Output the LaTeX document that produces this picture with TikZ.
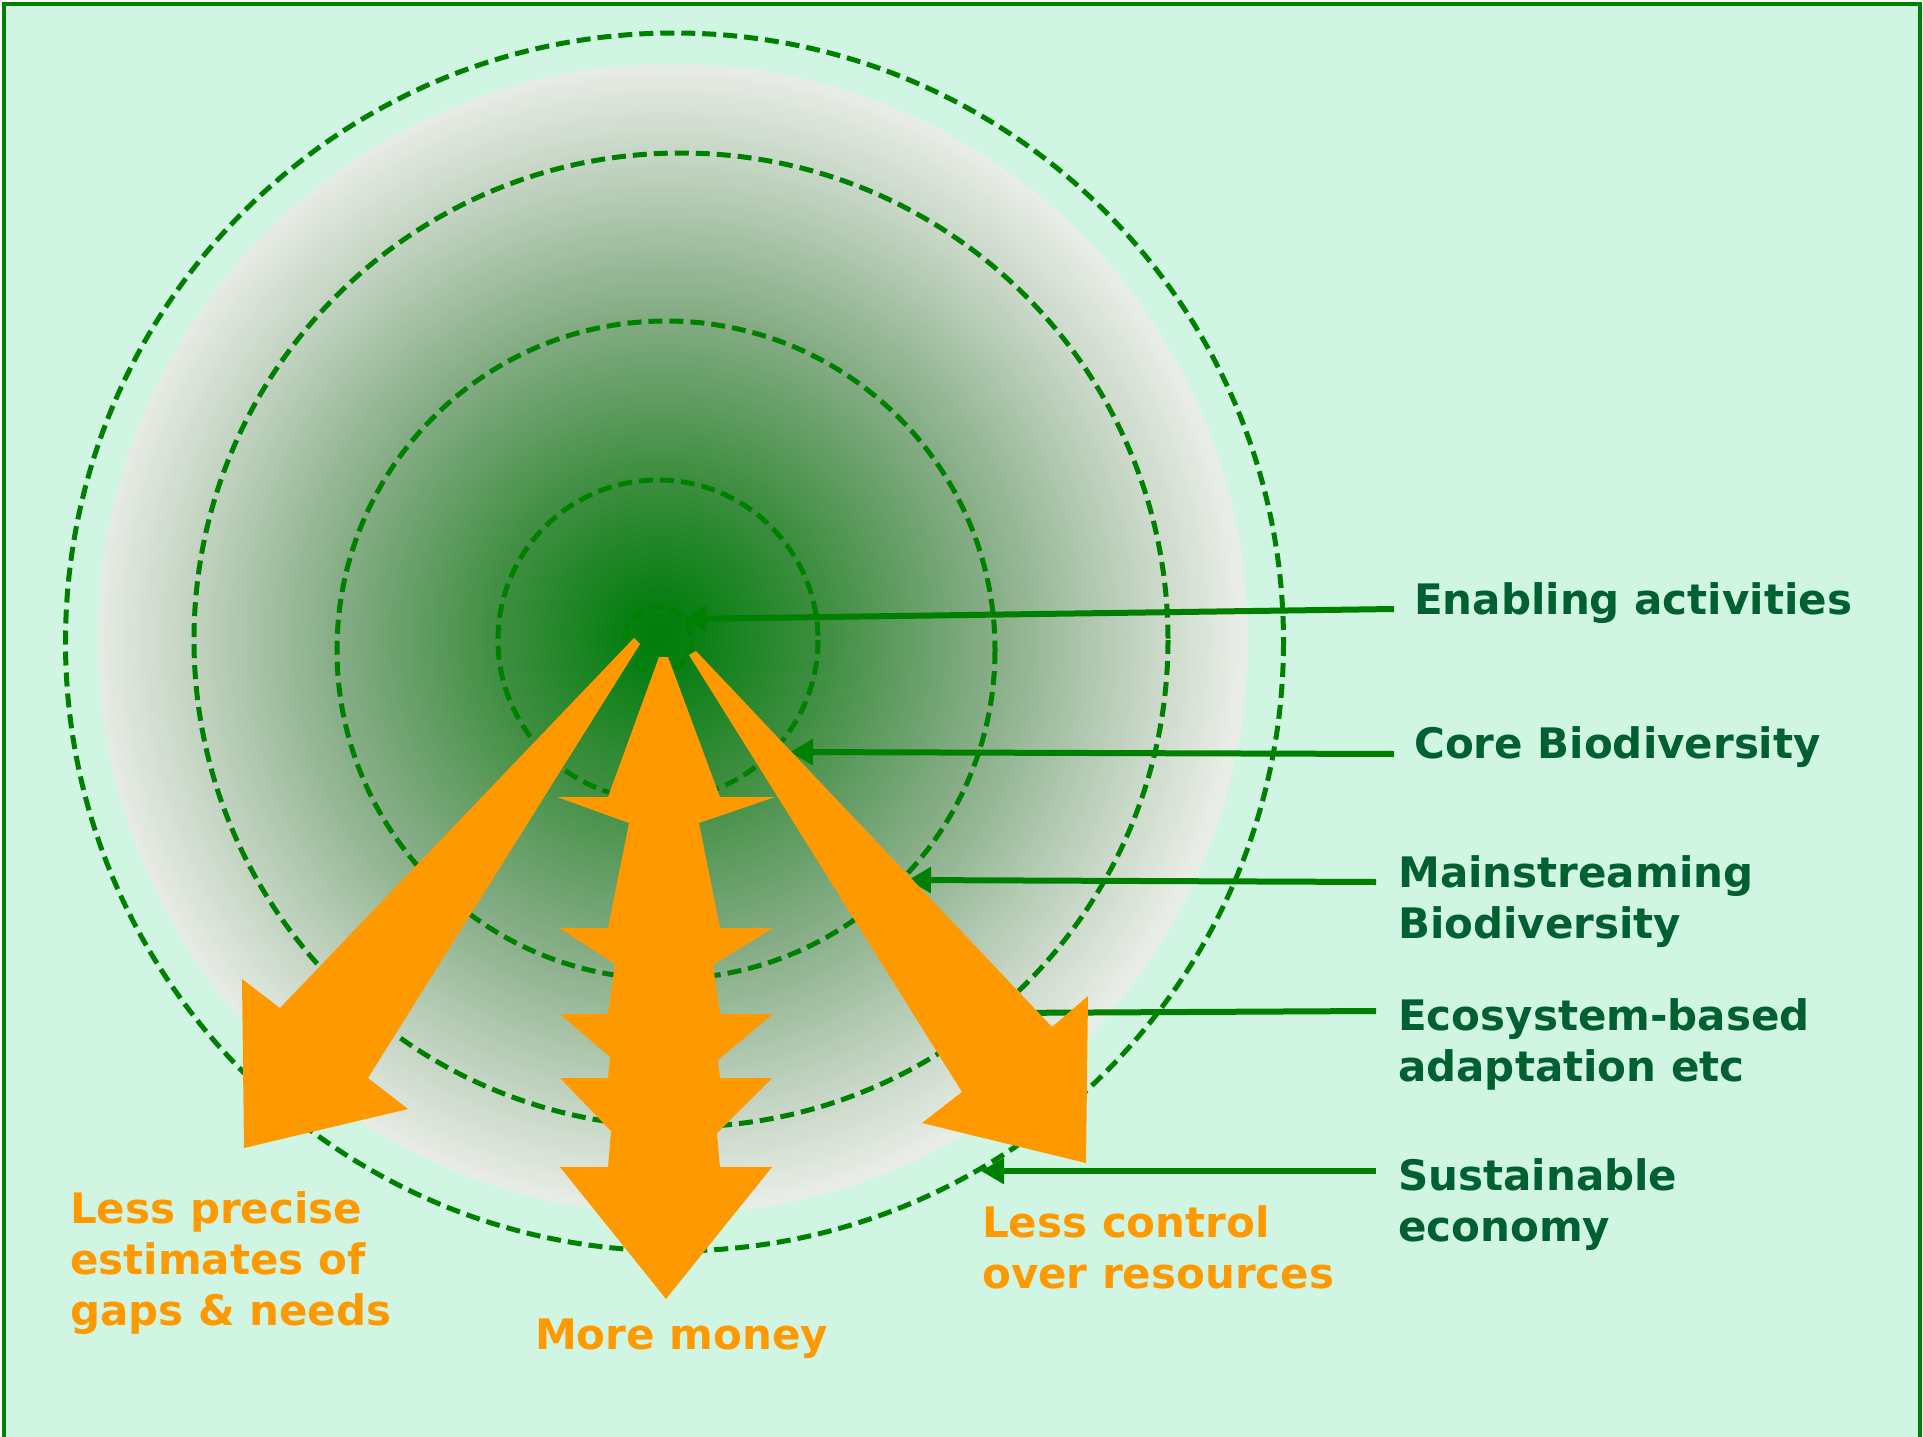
\documentclass[tikz,border=0pt]{standalone}
\usepackage{fontspec}
\setmainfont{DejaVu Sans}
\usetikzlibrary{arrows.meta}
\definecolor{bgmint}{RGB}{208,245,227}
\definecolor{frgreen}{RGB}{0,128,0}
\definecolor{txgreen}{RGB}{0,96,50}
\definecolor{orng}{RGB}{255,153,0}
\definecolor{gcen}{RGB}{0,125,10}
\definecolor{gc1}{RGB}{12,128,22}
\definecolor{gc2}{RGB}{62,142,64}
\definecolor{gc3}{RGB}{132,172,132}
\definecolor{gc4}{RGB}{198,214,197}
\definecolor{gedge}{RGB}{233,237,231}
\pgfdeclareradialshading{diskshade}{\pgfpoint{-0.65bp}{0.2bp}}{color(0bp)=(gcen); color(2bp)=(gc1); color(7bp)=(gc2); color(14bp)=(gc3); color(21bp)=(gc4); color(25bp)=(gedge); color(50bp)=(gedge)}
\begin{document}
\begin{tikzpicture}[x=1pt,y=-1pt,
  lbl/.style={font=\bfseries\fontsize{42}{51}\selectfont, inner sep=0pt, anchor=base west},
  glbl/.style={lbl, text=txgreen},
  olbl/.style={lbl, text=orng},
  conn/.style={draw=frgreen, line width=6pt, -{Triangle[length=23pt,width=25pt]}},
  ring/.style={draw=frgreen, line width=5pt, dash pattern=on 14pt off 7pt},
  bigarrow/.style={fill=orng, draw=none}]
\useasboundingbox (0,0) rectangle (1923,1437);
\fill[white] (0,0) rectangle (1923,1437);
\draw[fill=bgmint, draw=frgreen, line width=4pt] (4,4) rectangle (1920,1470);

% shaded disk
\shade[shading=diskshade] (673,639) circle[radius=575];

% dashed rings
\draw[ring] (674.5,642) circle[radius=609];
\draw[ring] (681,640) circle[radius=487];
\draw[ring] (666,650) circle[radius=329];
\draw[ring] (658,640) circle[radius=160];
\draw[ring] (658,640) circle[radius=33];

% connector ends
\coordinate (sE) at (1394,609);  \coordinate (tE) at (683,619);
\coordinate (sC) at (1394,754);  \coordinate (tC) at (790,752);
\coordinate (sM) at (1376,882);  \coordinate (tM) at (908,880);
\coordinate (sEc) at (1376,1011); \coordinate (tEc) at (997,1013);
\coordinate (sS) at (1376,1171); \coordinate (tS) at (981,1171);

\draw[conn] (sE) -- (tE);
\draw[conn] (sC) -- (tC);
\draw[conn] (sM) -- (tM);
\draw[conn] (sEc) -- (tEc);
\draw[conn] (sS) -- (tS);

% orange arrows
\fill[bigarrow] (634,638) -- (280,1008) -- (242,979) -- (244,1148) -- (408,1109) -- (368,1078) -- (640,644) -- cycle;
\fill[bigarrow] (689,655) -- (962,1092) -- (922,1123) -- (1086,1163) -- (1088,996) -- (1052,1027) -- (696,651) -- cycle;
\fill[bigarrow] (659,657) -- (608,797) -- (557,797) -- (629,823) -- (608,928) -- (559,928) -- (615,964) -- (608,1014) -- (560,1014) -- (610,1057) -- (608,1078) -- (560,1078) -- (611,1131) -- (608,1167) -- (560,1167) -- (666,1299) -- (772,1167) -- (720,1167) -- (717,1133) -- (772,1078) -- (720,1078) -- (718,1060) -- (773,1014) -- (720,1014) -- (713,965) -- (773,928) -- (720,928) -- (699,823) -- (775,797) -- (720,797) -- (668,657) -- cycle;

% labels
\node[glbl] (lE) at (1414,614) {Enabling activities};
\node[glbl] (lC) at (1414,758) {Core Biodiversity};
\node[glbl] (lM) at (1398,887) {\begin{tabular}[t]{@{}l@{}}Mainstreaming\\Biodiversity\end{tabular}};
\node[glbl] (lEc) at (1398,1030) {\begin{tabular}[t]{@{}l@{}}Ecosystem-based\\adaptation etc\end{tabular}};
\node[glbl] (lS) at (1398,1190) {\begin{tabular}[t]{@{}l@{}}Sustainable\\economy\end{tabular}};

\node[olbl] (lP) at (70,1223) {\begin{tabular}[t]{@{}l@{}}Less precise\\estimates of\\gaps \& needs\end{tabular}};
\node[olbl] (lMm) at (535,1349) {More money};
\node[olbl] (lR) at (982,1237) {\begin{tabular}[t]{@{}l@{}}Less control\\over resources\end{tabular}};
\end{tikzpicture}
\end{document}
